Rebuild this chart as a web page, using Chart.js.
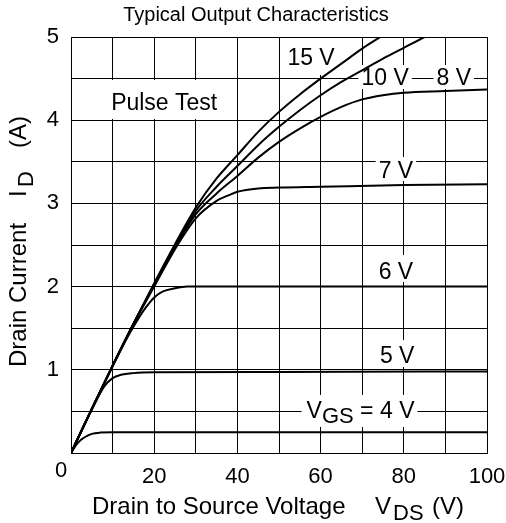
<!DOCTYPE html>
<html>
<head>
<meta charset="utf-8">
<script src="https://cdn.jsdelivr.net/npm/chart.js@4.4.0/dist/chart.umd.min.js"></script>
<style>
  html, body { margin: 0; padding: 0; background: #fff; }
  #wrap { width: 506px; height: 523px; }
</style>
</head>
<body>
<div id="wrap"><canvas id="output_chart"></canvas></div>
<script>
// Output characteristics, one curve per gate voltage
// VDS in volts, ID in amps
const vds_4V = [0, 1, 2, 3, 4, 5, 7, 10, 20, 100];
const id_4V  = [0, 0.08, 0.14, 0.18, 0.21, 0.23, 0.245, 0.25, 0.25, 0.25];

const vds_5V = [0, 2, 4, 6, 8, 10, 12, 15, 20, 50, 100];
const id_5V  = [0, 0.21, 0.42, 0.62, 0.8, 0.9, 0.94, 0.96, 0.97, 0.975, 0.98];

const vds_6V = [0, 5, 10, 12, 14, 16, 18, 20, 22, 25, 28, 40, 100];
const id_6V  = [0, 0.53, 1.04, 1.24, 1.43, 1.6, 1.75, 1.87, 1.94, 1.98, 2.0, 2.0, 2.0];

const vds_7V = [0, 5, 10, 15, 20, 25, 30, 35, 38, 40, 45, 50, 60, 80, 100];
const id_7V  = [0, 0.53, 1.05, 1.55, 2.0, 2.45, 2.82, 3.03, 3.1, 3.14, 3.18, 3.19, 3.2, 3.22, 3.23];

const vds_8V = [0, 5, 10, 15, 20, 25, 30, 35, 40, 45, 50, 55, 60, 65, 70, 75, 80, 90, 100];
const id_8V  = [0, 0.53, 1.05, 1.55, 2.02, 2.47, 2.87, 3.12, 3.33, 3.55, 3.74, 3.9, 4.04, 4.16, 4.25, 4.3, 4.33, 4.35, 4.37];

const vds_10V = [0, 5, 10, 15, 20, 25, 30, 35, 40, 45, 50, 55, 60, 65, 70, 75, 80, 85, 90];
const id_10V  = [0, 0.53, 1.05, 1.55, 2.03, 2.49, 2.91, 3.2, 3.45, 3.7, 3.92, 4.12, 4.3, 4.46, 4.6, 4.74, 4.87, 5.0, 5.12];

const vds_15V = [0, 5, 10, 15, 20, 25, 30, 35, 40, 45, 50, 55, 60, 65, 70, 75, 80];
const id_15V  = [0, 0.53, 1.05, 1.55, 2.04, 2.51, 2.95, 3.3, 3.58, 3.86, 4.1, 4.31, 4.5, 4.68, 4.86, 5.02, 5.18];

const xTickLabels = [20, 40, 60, 80, 100];
const yTickLabels = [1, 2, 3, 4, 5];

const FONT = '"Liberation Sans", Arial, Helvetica, sans-serif';
Chart.defaults.font.family = FONT;
Chart.defaults.color = '#000';

function curve(label, xs, ys) {
  return {
    label: label,
    data: xs.map((v, i) => ({x: v, y: ys[i]})),
    borderColor: '#000',
    borderWidth: 2,
    pointRadius: 0,
    fill: false,
    cubicInterpolationMode: 'monotone'
  };
}

// white boxed labels sit on top of the grid, under the curves
const curveLabels = {
  id: 'curveLabels',
  beforeDatasetsDraw(chart) {
    const {ctx, chartArea, scales: {x, y}} = chart;
    ctx.save();
    ctx.font = '23px ' + FONT;
    ctx.textAlign = 'left';
    ctx.textBaseline = 'alphabetic';
    const tags = [
      ['15 V', 57.7, 4.663, 28, 10],
      ['10 V', 75.5, 4.423, 20, 4],
      ['8 V', 92, 4.423, 20, 4],
      ['7 V', 78.1, 3.305, 21, 3],
      ['6 V', 78.1, 2.091, 24, 3],
      ['5 V', 78.4, 1.082, 23, 4],
      ['Pulse Test', 22.4, 4.123, 30, 9]
    ];
    tags.forEach(([txt, vx, vy, up, down]) => {
      const w = ctx.measureText(txt).width;
      const cx = x.getPixelForValue(vx);
      const by = y.getPixelForValue(vy);
      const top = Math.max(by - up, chartArea.top + 1);
      ctx.fillStyle = '#fff';
      ctx.fillRect(cx - w / 2 - 3, top, w + 6, by + down - top);
      ctx.fillStyle = '#000';
      ctx.fillText(txt, cx - w / 2, by);
    });

    // VGS = 4 V
    const cx = x.getPixelForValue(69.6);
    const by = y.getPixelForValue(0.421);
    ctx.font = '23px ' + FONT;
    const wV = ctx.measureText('V').width;
    const wRest = ctx.measureText(' = 4 V').width;
    ctx.font = '22px ' + FONT;
    const wGS = ctx.measureText('GS').width;
    const w = wV + wGS + wRest;
    const x0 = cx - w / 2;
    ctx.fillStyle = '#fff';
    ctx.fillRect(x0 - 5, by - 23, w + 8, 32);
    ctx.fillStyle = '#000';
    ctx.font = '23px ' + FONT;
    ctx.fillText('V', x0, by);
    ctx.fillText(' = 4 V', x0 + wV + wGS, by);
    ctx.font = '22px ' + FONT;
    ctx.fillText('GS', x0 + wV, by + 5);
    ctx.restore();
  },
  afterDraw(chart) {
    const {ctx} = chart;
    ctx.save();
    ctx.fillStyle = '#000';
    ctx.textBaseline = 'alphabetic';

    ctx.font = '20px ' + FONT;
    ctx.textAlign = 'center';
    ctx.fillText('Typical Output Characteristics', 256, 21);
    ctx.font = '22px ' + FONT;
    ctx.fillText('0', 61, 477);

    // x axis title
    ctx.textAlign = 'left';
    ctx.font = '24px ' + FONT;
    ctx.fillText('Drain to Source Voltage', 92, 514);
    ctx.fillText('V', 375, 514);
    ctx.fillText('(V)', 432, 514);
    ctx.font = '22px ' + FONT;
    ctx.fillText('DS', 393, 520);

    // y axis title
    ctx.translate(26, 367);
    ctx.rotate(-Math.PI / 2);
    ctx.font = '24px ' + FONT;
    ctx.fillText('Drain Current', 0, 0);
    ctx.fillText('I', 170, 0);
    ctx.fillText('(A)', 219, 0);
    ctx.font = '22px ' + FONT;
    ctx.fillText('D', 180, 7);
    ctx.restore();
  }
};

const data = {
  datasets: [
    curve('15 V', vds_15V, id_15V),
    curve('10 V', vds_10V, id_10V),
    curve('8 V', vds_8V, id_8V),
    curve('7 V', vds_7V, id_7V),
    curve('6 V', vds_6V, id_6V),
    curve('5 V', vds_5V, id_5V),
    curve('4 V', vds_4V, id_4V)
  ]
};

const config = {
  type: 'line',
  data: data,
  options: {
    responsive: true,
    maintainAspectRatio: false,
    animation: false,
    layout: { padding: { top: 37, right: 19, left: 0, bottom: 0 } },
    plugins: {
      legend: { display: false },
      title: { display: false },
      tooltip: { enabled: false }
    },
    scales: {
      x: {
        type: 'linear',
        min: 0,
        max: 100,
        afterFit: (s) => { s.height = 70; s.paddingLeft = 0; s.paddingRight = 0; },
        grid: { color: '#000', lineWidth: 1, drawTicks: false },
        border: { color: '#000', width: 1 },
        ticks: {
          stepSize: 10,
          autoSkip: false,
          maxRotation: 0,
          padding: 11,
          font: { size: 22 },
          callback: (v) => xTickLabels.includes(v) ? String(v) : ''
        }
      },
      y: {
        type: 'linear',
        min: 0,
        max: 5,
        afterFit: (s) => { s.width = 71; s.paddingTop = 0; s.paddingBottom = 0; },
        grid: { color: '#000', lineWidth: 1, drawTicks: false },
        border: { color: '#000', width: 1 },
        ticks: {
          stepSize: 0.5,
          autoSkip: false,
          padding: 12,
          font: { size: 22 },
          callback: (v) => yTickLabels.includes(v) ? String(v) : ''
        }
      }
    }
  },
  plugins: [curveLabels]
};

var outputChart = new Chart(document.getElementById('output_chart'), config);
</script>
</body>
</html>
